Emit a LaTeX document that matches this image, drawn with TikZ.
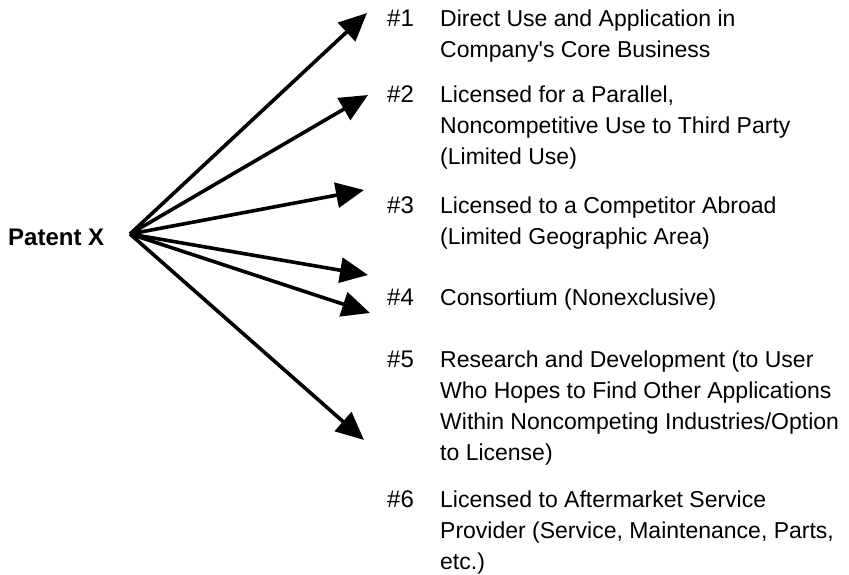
\documentclass[tikz,border=0pt]{standalone}
\usepackage{fontspec}
\setmainfont{Liberation Sans}
\usetikzlibrary{arrows.meta}
\newcommand{\itemlines}[1]{\begin{tabular}[t]{@{}l@{}}#1\end{tabular}}
\begin{document}
\begin{tikzpicture}[x=1pt,y=-1pt,
  arr/.style={line width=3.6pt,-{Triangle[length=28pt,width=25pt]}},
  num/.style={anchor=base west,inner sep=0pt,font=\fontsize{24}{31}\selectfont},
  item/.style={anchor=base west,inner sep=0pt,font=\fontsize{23}{31}\selectfont}]
\useasboundingbox (0,0) rectangle (849,574);
\node[anchor=base west,inner sep=0pt,font=\fontsize{24}{30}\selectfont\bfseries] (patent) at (8,245) {Patent X};
\coordinate (hub) at (130,234);
\coordinate (t1) at (367,13);
\coordinate (t2) at (368,95);
\coordinate (t3) at (364,190);
\coordinate (t4) at (368,275);
\coordinate (t5) at (370,313);
\coordinate (t6) at (364,440);
\foreach \i in {1,...,6} \draw[arr] (hub) -- (t\i);
\node[num] (n1) at (387,26) {\#1};
\node[item] (i1) at (440,26) {\itemlines{Direct Use and Application in\\Company\textquotesingle s Core Business}};
\node[num] (n2) at (387,102) {\#2};
\node[item] (i2) at (440,102) {\itemlines{Licensed for a Parallel,\\Noncompetitive Use to Third Party\\(Limited Use)}};
\node[num] (n3) at (387,213) {\#3};
\node[item] (i3) at (440,213) {\itemlines{Licensed to a Competitor Abroad\\(Limited Geographic Area)}};
\node[num] (n4) at (387,305) {\#4};
\node[item] (i4) at (440,305) {Consortium (Nonexclusive)};
\node[num] (n5) at (387,367) {\#5};
\node[item] (i5) at (440,367) {\itemlines{Research and Development (to User\\Who Hopes to Find Other Applications\\Within Noncompeting Industries/Option\\to License)}};
\node[num] (n6) at (387,507) {\#6};
\node[item] (i6) at (440,507) {\itemlines{Licensed to Aftermarket Service\\Provider (Service, Maintenance, Parts,\\etc.)}};
\end{tikzpicture}
\end{document}
